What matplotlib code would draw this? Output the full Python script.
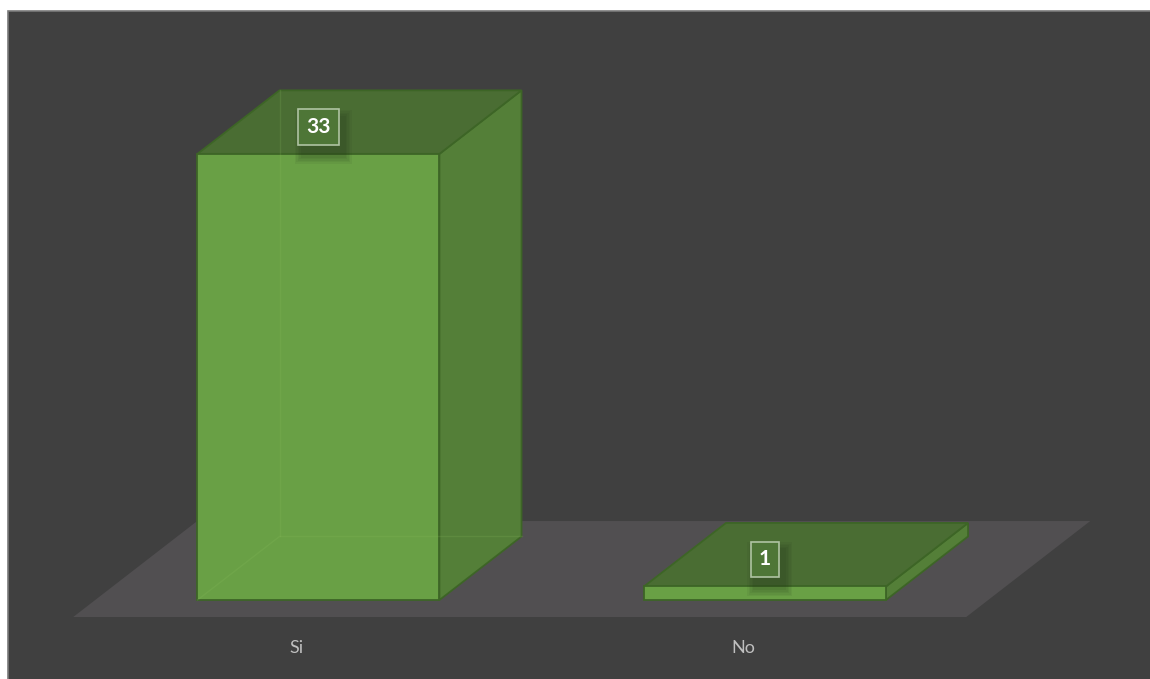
import matplotlib
matplotlib.use("Agg")
import matplotlib.pyplot as plt
from matplotlib.patches import Polygon, Rectangle

# data
categories = ["Si", "No"]
values = [33, 1]

# colours
bg_color = "#404040"
floor_color = "#514F51"
front_color = "#69A045"
top_color = "#4A6D33"
side_color = "#547F38"
edge_color = "#3D6526"
text_color = "#BFBFBF"

# oblique projection (depth vector in data units)
DX, DY = 0.2777, 7.10
d_front, d_back = 0.177, 0.839
bar_w = 0.542
# data units per pixel
PX_X, PX_Y = 1 / 446.5, 1 / 13.52


def proj(x, v, d):
    return (x + d * DX, v + d * DY)


fig = plt.figure(figsize=(11.5, 6.79), dpi=100, facecolor="white")
ax = fig.add_axes([0, 0, 1, 1])
ax.set_xlim(-0.664, 1.9115)
ax.set_ylim(-4.586, 45.64)
ax.axis("off")

# chart area
ax.add_patch(Rectangle((8 / 1150, -0.05), 1.1, 1.05 - 11 / 679,
                       transform=ax.transAxes, facecolor=bg_color,
                       edgecolor="#7A7A7A", linewidth=1.2, zorder=0))

# floor
n = len(categories)
floor = [proj(-0.5, 0, 0), proj(n - 0.5, 0, 0), proj(n - 0.5, 0, 1), proj(-0.5, 0, 1)]
ax.add_patch(Polygon(floor, closed=True, facecolor=floor_color, edgecolor="none", zorder=1))

for i, v in enumerate(values):
    x0, x1 = i - bar_w / 2, i + bar_w / 2
    front = [proj(x0, 0, d_front), proj(x1, 0, d_front), proj(x1, v, d_front), proj(x0, v, d_front)]
    side = [proj(x1, 0, d_front), proj(x1, 0, d_back), proj(x1, v, d_back), proj(x1, v, d_front)]
    top = [proj(x0, v, d_front), proj(x1, v, d_front), proj(x1, v, d_back), proj(x0, v, d_back)]
    for poly, col in [(side, side_color), (top, top_color), (front, front_color)]:
        ax.add_patch(Polygon(poly, closed=True, facecolor=col, edgecolor=edge_color,
                             linewidth=1.3, joinstyle="miter", zorder=2))
    # faint hidden edges seen through the translucent bar
    if v > 3:
        hidden = [
            [proj(x0, 0, d_front), proj(x0, 0, d_back)],
            [proj(x0, 0, d_back), proj(x1, 0, d_back)],
            [proj(x0, 0, d_back), proj(x0, v, d_back)],
        ]
        for seg in hidden:
            xs, ys = zip(*seg)
            ax.plot(xs, ys, color="#8CC060", alpha=0.18, linewidth=1.0, zorder=3)

    # data label with soft shadow
    lx, ly = proj(i, v + 2.0, d_front)
    label = str(v)
    bw = (17 + 12 * len(label)) * PX_X
    bh = 38 * PX_Y
    for k in range(5):
        grow = (4 + 3 * k)
        ax.add_patch(Rectangle((lx - bw / 2 + 5 * PX_X - grow * PX_X / 2,
                                ly - bh / 2 - 10 * PX_Y - grow * PX_Y / 2),
                               bw + grow * PX_X, bh + grow * PX_Y,
                               facecolor="#1A2812", edgecolor="none", alpha=0.06, zorder=4))
    ax.text(lx, ly, label, fontsize=15, fontweight="bold", family="Lato",
            color="white", ha="center", va="center", zorder=5,
            bbox=dict(boxstyle="square,pad=0.38", facecolor="#4E7637",
                      edgecolor="#AFC4A3", linewidth=1.2))

    # category label
    ax.text(i, -2.3, categories[i], fontsize=13, family="Lato", color=text_color,
            ha="center", va="center", zorder=5)

fig.savefig("out.png", dpi=100, facecolor=fig.get_facecolor())
